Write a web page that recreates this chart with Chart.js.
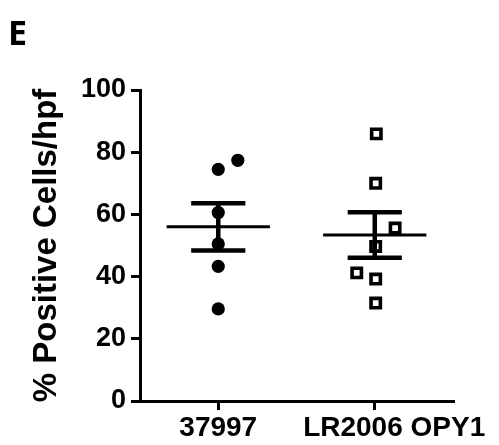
<!DOCTYPE html>
<html>
<head>
<meta charset="utf-8">
<script src="https://cdn.jsdelivr.net/npm/chart.js@4/dist/chart.umd.min.js"></script>
<style>
  html, body { margin: 0; padding: 0; background: #fff; }
  #wrap { position: relative; width: 499px; height: 445px; }
</style>
</head>
<body>
<div id="wrap"><canvas id="c" width="499" height="445"></canvas></div>
<script>
// ---- data ----
const panelLabel = 'E';
const yAxisTitle = '% Positive Cells/hpf';
const categories = ['37997', 'LR2006 OPY1'];
const groupA = [74.5, 77.4, 60.6, 50.5, 43.3, 29.6];
const groupAJitter = [0, 0.125, 0, 0, 0, 0];
const groupB = [85.9, 70.0, 55.6, 49.7, 41.2, 39.2, 31.5];
const groupBJitter = [0.01, 0.006, 0.13, 0.006, -0.115, 0.006, 0.006];
const means = [56.0, 53.4];
const sems = [7.6, 7.3];
const yMin = 0, yMax = 100, yStep = 20;

// ---- styling constants ----
const FONT = "'Liberation Sans', Arial, Helvetica, sans-serif";
const meanHalf = 0.33;
const capHalf = 0.173;
const labelLead = ['', '\u00a0\u00a0\u00a0\u00a0\u00a0']; // visual nudge of tick text

function pts(vals, jit, idx) {
  return vals.map((v, i) => ({ x: idx + jit[i], y: v }));
}
function seg(x1, x2, y1, y2, w) {
  return {
    type: 'line',
    data: [{ x: x1, y: y1 }, { x: x2, y: y2 }],
    borderColor: '#000',
    borderWidth: w,
    borderCapStyle: 'butt',
    pointRadius: 0,
    pointHoverRadius: 0,
    showLine: true,
    fill: false,
    order: 1
  };
}

const datasets = [
  {
    type: 'scatter',
    label: categories[0],
    data: pts(groupA, groupAJitter, 0),
    pointStyle: 'circle',
    pointRadius: 6.6,
    backgroundColor: '#000',
    borderColor: '#000',
    borderWidth: 0,
    order: 2
  },
  {
    type: 'scatter',
    label: categories[1],
    data: pts(groupB, groupBJitter, 1),
    pointStyle: 'rect',
    pointRadius: 6.6,
    backgroundColor: '#fff',
    borderColor: '#000',
    borderWidth: 3.6,
    order: 2
  }
];
means.forEach((m, i) => {
  datasets.push(seg(i - meanHalf, i + meanHalf, m, m, 3));
  datasets.push(seg(i - capHalf, i + capHalf, m + sems[i], m + sems[i], 4.5));
  datasets.push(seg(i - capHalf, i + capHalf, m - sems[i], m - sems[i], 4.5));
  datasets.push(seg(i, i, m - sems[i], m + sems[i], 4.5));
});

new Chart(document.getElementById('c'), {
  type: 'scatter',
  data: { datasets },
  options: {
    responsive: false,
    animation: false,
    events: [],
    layout: { padding: { left: 8, right: 46, top: 0, bottom: 0 } },
    plugins: {
      legend: { display: false },
      tooltip: { enabled: false },
      title: {
        display: true,
        text: panelLabel,
        align: 'start',
        color: '#000',
        font: { family: "'Open Sans', sans-serif", size: 34, weight: 'bold', lineHeight: 1.2 },
        padding: { top: 15, bottom: 34.2 }
      }
    },
    scales: {
      x: {
        type: 'linear',
        min: -0.5,
        max: 1.5,
        afterBuildTicks: (s) => { s.ticks = categories.map((c, i) => ({ value: i })); },
        afterFit: (s) => { s.height = 44; },
        ticks: {
          color: '#000',
          padding: 1,
          maxRotation: 0,
          autoSkip: false,
          font: { family: FONT, size: 28, weight: 'bold' },
          callback: (v) => labelLead[v] + categories[v]
        },
        grid: { drawOnChartArea: false, drawTicks: true, tickLength: 9, color: '#000', lineWidth: 3 },
        border: { display: true, color: '#000', width: 3 }
      },
      y: {
        min: yMin,
        max: yMax,
        afterFit: (s) => { s.width = 132; },
        ticks: {
          stepSize: yStep,
          color: '#000',
          padding: 5,
          font: { family: FONT, size: 27, weight: 'bold' }
        },
        grid: { drawOnChartArea: false, drawTicks: true, tickLength: 9, color: '#000', lineWidth: 3 },
        border: { display: true, color: '#000', width: 3 },
        title: {
          display: true,
          text: yAxisTitle,
          color: '#000',
          font: { family: FONT, size: 33, weight: 'bold', lineHeight: 1.2 },
          padding: { top: 19, bottom: 0 }
        }
      }
    }
  }
});
</script>
</body>
</html>
